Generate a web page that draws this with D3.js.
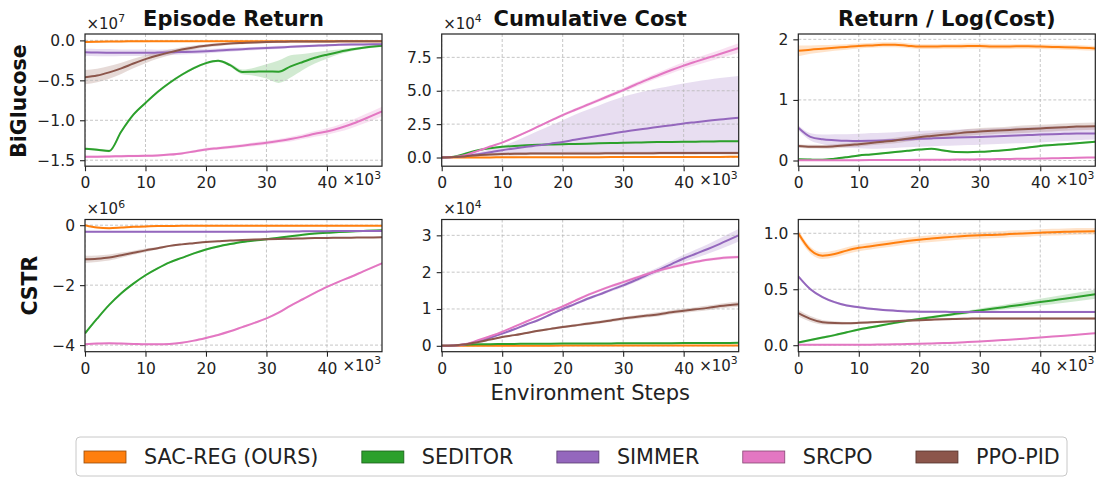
<!DOCTYPE html>
<html>
<head>
<meta charset="utf-8">
<script src="https://cdn.jsdelivr.net/npm/d3@7"></script>
<style>
  body { margin: 0; background: #fff; }
  svg { display: block; font-family: "DejaVu Sans", sans-serif; }
</style>
</head>
<body>
<svg id="fig" width="1098" height="477"></svg>
<script>
// ---- methods -------------------------------------------------------------
const methods = ["SAC-REG (OURS)", "SEDITOR", "SIMMER", "SRCPO", "PPO-PID"];
const colors  = ["#ff7f0e", "#2ca02c", "#9467bd", "#e377c2", "#8c564b"];

// environment steps at which every curve is sampled
const steps = [0, 2000, 4000, 6000, 8000, 10000, 12000, 14000, 16000, 18000, 20000,
               22000, 24000, 26000, 28000, 30000, 32000, 34000, 36000, 38000, 40000,
               42000, 44000, 46000, 49100];
const xTickValues = [0, 10000, 20000, 30000, 40000];

// ---- BiGlucose : episode return (x1e7) ------------------------------------
const bgReturn = [
  [-0.02,-0.016,-0.014,-0.013,-0.012,-0.012,-0.011,-0.011,-0.011,-0.01,-0.01,-0.01,-0.01,-0.01,-0.01,-0.01,-0.01,-0.01,-0.01,-0.01,-0.01,-0.01,-0.01,-0.01,-0.01],
  [-1.355,-1.368,-1.385,-1.14,-0.93,-0.783,-0.645,-0.53,-0.43,-0.346,-0.285,-0.256,-0.31,-0.395,-0.392,-0.388,-0.392,-0.325,-0.27,-0.218,-0.179,-0.145,-0.115,-0.093,-0.068],
  [-0.15,-0.152,-0.154,-0.155,-0.155,-0.155,-0.153,-0.15,-0.146,-0.141,-0.135,-0.127,-0.118,-0.11,-0.102,-0.095,-0.088,-0.081,-0.074,-0.067,-0.06,-0.056,-0.052,-0.05,-0.048],
  [-1.458,-1.456,-1.453,-1.45,-1.447,-1.445,-1.44,-1.43,-1.415,-1.39,-1.365,-1.35,-1.335,-1.318,-1.3,-1.282,-1.26,-1.235,-1.205,-1.17,-1.14,-1.1,-1.05,-0.99,-0.89],
  [-0.46,-0.44,-0.40,-0.35,-0.29,-0.235,-0.19,-0.15,-0.115,-0.088,-0.068,-0.052,-0.04,-0.032,-0.025,-0.02,-0.017,-0.015,-0.014,-0.013,-0.013,-0.012,-0.012,-0.012,-0.012]
];
const bgReturnBand = [
  0.01,
  [0.015,0.015,0.015,0.015,0.015,0.015,0.015,0.015,0.015,0.015,0.015,0.015,0.02,0.03,0.05,0.09,0.14,0.14,0.1,0.07,0.05,0.03,0.02,0.015,0.015],
  [0.045,0.045,0.045,0.04,0.04,0.04,0.035,0.035,0.03,0.03,0.03,0.025,0.025,0.02,0.02,0.02,0.02,0.015,0.015,0.015,0.015,0.015,0.015,0.015,0.015],
  [0.015,0.015,0.015,0.015,0.015,0.015,0.015,0.015,0.015,0.015,0.02,0.02,0.02,0.02,0.025,0.025,0.025,0.03,0.03,0.035,0.04,0.045,0.05,0.055,0.06],
  [0.09,0.085,0.08,0.07,0.06,0.05,0.04,0.035,0.03,0.025,0.02,0.02,0.015,0.015,0.015,0.015,0.015,0.015,0.015,0.015,0.015,0.015,0.015,0.015,0.015]
];

// ---- BiGlucose : cumulative cost (x1e4) -----------------------------------
const bgCost = [
  [0,0.002,0.005,0.008,0.01,0.012,0.014,0.016,0.018,0.02,0.022,0.024,0.026,0.028,0.03,0.032,0.034,0.036,0.038,0.04,0.042,0.044,0.046,0.048,0.05],
  [0,0.06,0.3,0.55,0.7,0.8,0.86,0.91,0.95,0.98,1.0,1.02,1.04,1.06,1.08,1.1,1.12,1.14,1.16,1.17,1.18,1.19,1.2,1.21,1.22],
  [0,0.03,0.12,0.25,0.4,0.55,0.68,0.8,0.91,1.04,1.17,1.33,1.48,1.63,1.78,1.93,2.06,2.18,2.3,2.42,2.55,2.65,2.75,2.85,2.98],
  [0,0.04,0.2,0.5,0.82,1.12,1.5,1.9,2.33,2.76,3.18,3.56,3.93,4.3,4.68,5.05,5.45,5.83,6.2,6.55,6.88,7.18,7.47,7.75,8.2],
  [0,0.03,0.1,0.17,0.22,0.26,0.28,0.29,0.3,0.3,0.3,0.31,0.31,0.31,0.32,0.32,0.32,0.32,0.33,0.33,0.33,0.33,0.34,0.34,0.34]
];
const bgCostSimmerLo = [0,0.02,0.08,0.15,0.2,0.25,0.28,0.3,0.32,0.33,0.34,0.35,0.36,0.37,0.37,0.38,0.38,0.39,0.39,0.4,0.4,0.4,0.4,0.4,0.4];
const bgCostSimmerHi = [0,0.04,0.17,0.37,0.6,0.85,1.2,1.6,2.0,2.4,2.8,3.2,3.55,3.9,4.25,4.55,4.8,5.0,5.2,5.38,5.55,5.7,5.83,5.95,6.1];
const bgCostBand = [
  0.06,
  0.04,
  { lo: bgCostSimmerLo, hi: bgCostSimmerHi },
  [0,0.01,0.02,0.03,0.04,0.05,0.06,0.07,0.08,0.09,0.1,0.11,0.12,0.13,0.14,0.15,0.17,0.19,0.21,0.23,0.25,0.27,0.29,0.31,0.35],
  [0,0.02,0.05,0.08,0.1,0.11,0.12,0.12,0.12,0.12,0.12,0.12,0.12,0.12,0.12,0.12,0.12,0.12,0.12,0.12,0.12,0.12,0.12,0.12,0.12]
];

// ---- BiGlucose : return / log(cost) ---------------------------------------
const bgRatio = [
  [1.81,1.83,1.845,1.86,1.875,1.89,1.9,1.91,1.91,1.895,1.88,1.88,1.885,1.885,1.89,1.89,1.88,1.88,1.885,1.885,1.88,1.875,1.87,1.865,1.85],
  [0.02,0.015,0.012,0.03,0.055,0.083,0.1,0.12,0.14,0.16,0.18,0.192,0.165,0.14,0.138,0.143,0.155,0.17,0.19,0.215,0.24,0.255,0.27,0.285,0.31],
  [0.54,0.39,0.35,0.335,0.325,0.322,0.325,0.33,0.338,0.348,0.358,0.365,0.372,0.378,0.384,0.39,0.398,0.405,0.413,0.42,0.428,0.435,0.44,0.444,0.446],
  [0.005,0.005,0.005,0.005,0.006,0.006,0.007,0.008,0.009,0.01,0.011,0.012,0.013,0.015,0.017,0.02,0.022,0.025,0.028,0.03,0.033,0.037,0.041,0.045,0.05],
  [0.24,0.228,0.226,0.235,0.25,0.27,0.29,0.31,0.33,0.36,0.385,0.405,0.425,0.445,0.465,0.48,0.49,0.5,0.51,0.52,0.53,0.54,0.55,0.56,0.567]
];
const bgRatioBand = [
  [0.09,0.07,0.06,0.05,0.045,0.04,0.04,0.04,0.04,0.04,0.04,0.04,0.04,0.04,0.04,0.04,0.04,0.04,0.04,0.04,0.04,0.04,0.04,0.04,0.04],
  0.015,
  [0.04,0.06,0.08,0.1,0.11,0.12,0.13,0.13,0.13,0.13,0.13,0.13,0.13,0.13,0.13,0.13,0.13,0.13,0.13,0.13,0.13,0.125,0.12,0.11,0.1],
  0.01,
  [0.03,0.03,0.03,0.035,0.035,0.04,0.04,0.04,0.045,0.045,0.05,0.05,0.05,0.05,0.055,0.055,0.055,0.055,0.06,0.06,0.06,0.06,0.06,0.06,0.06]
];

// ---- CSTR : episode return (x1e6) -----------------------------------------
const cstrReturn = [
  [0,-0.08,-0.1,-0.08,-0.055,-0.04,-0.03,-0.025,-0.02,-0.02,-0.02,-0.02,-0.02,-0.02,-0.02,-0.02,-0.02,-0.02,-0.02,-0.018,-0.018,-0.016,-0.016,-0.015,-0.015],
  [-3.61,-3.12,-2.66,-2.27,-1.95,-1.67,-1.44,-1.24,-1.09,-0.94,-0.81,-0.71,-0.63,-0.56,-0.51,-0.47,-0.42,-0.37,-0.32,-0.28,-0.255,-0.23,-0.21,-0.19,-0.17],
  [-0.22,-0.22,-0.22,-0.22,-0.22,-0.22,-0.22,-0.22,-0.22,-0.22,-0.22,-0.22,-0.22,-0.22,-0.215,-0.215,-0.21,-0.21,-0.205,-0.2,-0.2,-0.195,-0.195,-0.19,-0.19],
  [-3.97,-3.95,-3.94,-3.95,-3.96,-3.97,-3.97,-3.96,-3.92,-3.85,-3.76,-3.66,-3.54,-3.4,-3.26,-3.11,-2.92,-2.68,-2.47,-2.26,-2.06,-1.88,-1.72,-1.54,-1.27],
  [-1.14,-1.12,-1.08,-1.0,-0.92,-0.84,-0.77,-0.69,-0.64,-0.6,-0.56,-0.535,-0.51,-0.495,-0.48,-0.47,-0.46,-0.45,-0.44,-0.43,-0.425,-0.42,-0.415,-0.41,-0.405]
];
const cstrReturnBand = [
  0.02,
  0.03,
  0.02,
  0.03,
  [0.12,0.11,0.1,0.09,0.07,0.06,0.04,0.03,0.025,0.02,0.02,0.02,0.02,0.02,0.02,0.02,0.02,0.02,0.02,0.02,0.02,0.02,0.02,0.02,0.02]
];

// ---- CSTR : cumulative cost (x1e4) ----------------------------------------
const cstrCost = [
  [0,0,0.001,0.001,0.002,0.002,0.003,0.003,0.004,0.004,0.005,0.005,0.006,0.006,0.007,0.007,0.008,0.008,0.009,0.009,0.01,0.01,0.01,0.01,0.01],
  [0,0.01,0.03,0.04,0.045,0.05,0.052,0.054,0.056,0.058,0.06,0.062,0.063,0.064,0.066,0.067,0.068,0.069,0.07,0.072,0.073,0.075,0.076,0.078,0.08],
  [0,0.005,0.04,0.12,0.22,0.33,0.45,0.58,0.7,0.85,1.0,1.13,1.27,1.39,1.52,1.64,1.78,1.93,2.07,2.22,2.37,2.5,2.63,2.77,3.0],
  [0,0.008,0.05,0.15,0.26,0.38,0.52,0.66,0.8,0.94,1.07,1.22,1.37,1.5,1.62,1.73,1.84,1.95,2.05,2.13,2.21,2.28,2.34,2.38,2.41],
  [0,0.01,0.04,0.1,0.17,0.24,0.29,0.35,0.41,0.46,0.51,0.55,0.6,0.64,0.69,0.74,0.78,0.82,0.86,0.91,0.95,0.99,1.03,1.08,1.13]
];
const cstrCostBand = [
  0.01,
  0.01,
  [0,0.005,0.01,0.015,0.02,0.02,0.025,0.025,0.03,0.03,0.035,0.035,0.04,0.04,0.045,0.05,0.055,0.065,0.075,0.09,0.1,0.115,0.13,0.15,0.17],
  [0,0.005,0.01,0.015,0.02,0.02,0.025,0.025,0.03,0.03,0.03,0.03,0.035,0.035,0.035,0.035,0.04,0.04,0.04,0.04,0.04,0.04,0.04,0.04,0.04],
  [0,0.005,0.01,0.015,0.02,0.02,0.025,0.025,0.03,0.03,0.035,0.035,0.04,0.04,0.045,0.045,0.05,0.05,0.055,0.055,0.06,0.06,0.065,0.065,0.07]
];

// ---- CSTR : return / log(cost) --------------------------------------------
const cstrRatio = [
  [1.0,0.85,0.80,0.815,0.845,0.87,0.885,0.9,0.915,0.93,0.943,0.953,0.962,0.97,0.977,0.982,0.985,0.99,0.996,1.0,1.005,1.01,1.013,1.016,1.018],
  [0.024,0.046,0.068,0.09,0.115,0.14,0.16,0.18,0.2,0.218,0.235,0.25,0.265,0.28,0.295,0.31,0.325,0.34,0.355,0.37,0.385,0.4,0.415,0.43,0.455],
  [0.615,0.5,0.43,0.385,0.355,0.34,0.325,0.315,0.308,0.302,0.3,0.298,0.298,0.297,0.297,0.297,0.297,0.297,0.297,0.297,0.297,0.297,0.297,0.297,0.297],
  [0.003,0.003,0.003,0.003,0.004,0.004,0.005,0.006,0.008,0.01,0.012,0.015,0.019,0.023,0.028,0.033,0.039,0.046,0.053,0.061,0.069,0.077,0.085,0.094,0.107],
  [0.287,0.235,0.205,0.198,0.197,0.2,0.205,0.21,0.215,0.22,0.224,0.228,0.232,0.235,0.237,0.238,0.238,0.238,0.238,0.238,0.238,0.238,0.238,0.238,0.238]
];
const cstrRatioBand = [
  0.03,
  [0.01,0.01,0.01,0.01,0.01,0.01,0.01,0.01,0.01,0.01,0.01,0.01,0.012,0.014,0.016,0.018,0.02,0.022,0.025,0.028,0.03,0.033,0.036,0.038,0.04],
  0.01,
  0.005,
  [0.03,0.025,0.02,0.015,0.01,0.01,0.01,0.01,0.01,0.01,0.01,0.01,0.01,0.01,0.01,0.01,0.01,0.01,0.01,0.01,0.01,0.01,0.01,0.01,0.01]
];

// ---- panel layout ---------------------------------------------------------
const colLeft = [85, 441.7, 798.3];
const rowTop  = [34, 219.5];
const panelW = 297, panelH = 132.2;

const panels = [
  { row: 0, col: 0, title: "Episode Return",     means: bgReturn,   bands: bgReturnBand,   yDomain: [-1.575, 0.08], yTicks: [-1.5, -1, -0.5, 0], fmt: ".1f", exp: 7 },
  { row: 0, col: 1, title: "Cumulative Cost",    means: bgCost,     bands: bgCostBand,     yDomain: [-0.65, 9.25],  yTicks: [0, 2.5, 5, 7.5],    fmt: ".1f", exp: 4 },
  { row: 0, col: 2, title: "Return / Log(Cost)", means: bgRatio,    bands: bgRatioBand,    yDomain: [-0.094, 2.088], yTicks: [0, 1, 2],          fmt: "d",   exp: null },
  { row: 1, col: 0, title: null,                 means: cstrReturn, bands: cstrReturnBand, yDomain: [-4.22, 0.19],  yTicks: [-4, -2, 0],         fmt: "d",   exp: 6 },
  { row: 1, col: 1, title: null,                 means: cstrCost,   bands: cstrCostBand,   yDomain: [-0.16, 3.43],  yTicks: [0, 1, 2, 3],        fmt: "d",   exp: 4 },
  { row: 1, col: 2, title: null,                 means: cstrRatio,  bands: cstrRatioBand,  yDomain: [-0.058, 1.123], yTicks: [0, 0.5, 1.0],      fmt: ".1f", exp: null }
];
const rowLabels = ["BiGlucose", "CSTR"];

const svg = d3.select("#fig");
const tickFont = 15.5;

function bandBounds(mean, band) {
  if (typeof band === "number") return { lo: mean.map(v => v - band), hi: mean.map(v => v + band) };
  if (Array.isArray(band))      return { lo: mean.map((v, i) => v - band[i]), hi: mean.map((v, i) => v + band[i]) };
  return band;
}

function sciLabel(sel, exp) {
  sel.append("tspan").text("\u00d710");
  sel.append("tspan").attr("font-size", "0.72em").attr("dy", "-0.6em").text(exp);
}

panels.forEach((p, k) => {
  const x0 = colLeft[p.col], y0 = rowTop[p.row];
  const g = svg.append("g").attr("transform", `translate(${x0},${y0})`);

  const x = d3.scaleLinear().domain(d3.extent(steps)).range([0, panelW]);
  const y = d3.scaleLinear().domain(p.yDomain).range([panelH, 0]);

  const clipId = "clip" + k;
  g.append("clipPath").attr("id", clipId)
    .append("rect").attr("width", panelW).attr("height", panelH);
  const plot = g.append("g").attr("clip-path", `url(#${clipId})`);

  // shaded spread bands
  p.means.forEach((mean, i) => {
    const b = bandBounds(mean, p.bands[i]);
    const area = d3.area()
      .x((d, j) => x(steps[j]))
      .y0((d, j) => y(b.lo[j]))
      .y1((d, j) => y(b.hi[j]))
      .curve(d3.curveMonotoneX);
    plot.append("path").datum(mean)
      .attr("d", area)
      .attr("fill", colors[i])
      .attr("fill-opacity", 0.22);
  });

  // dashed grid
  const grid = plot.append("g").attr("stroke", "#b8b8b8").attr("stroke-width", 0.8)
    .attr("stroke-dasharray", "3,2");
  xTickValues.forEach(t => grid.append("line")
    .attr("x1", x(t)).attr("x2", x(t)).attr("y1", 0).attr("y2", panelH));
  p.yTicks.forEach(t => grid.append("line")
    .attr("x1", 0).attr("x2", panelW).attr("y1", y(t)).attr("y2", y(t)));

  // mean curves
  p.means.forEach((mean, i) => {
    const line = d3.line()
      .x((d, j) => x(steps[j]))
      .y(d => y(d))
      .curve(d3.curveMonotoneX);
    plot.append("path").datum(mean)
      .attr("d", line)
      .attr("fill", "none")
      .attr("stroke", colors[i])
      .attr("stroke-width", 2);
  });

  // axes
  const yAxis = d3.axisLeft(y).tickValues(p.yTicks).tickFormat(d3.format(p.fmt))
    .tickSize(5).tickPadding(5);
  const xAxis = d3.axisBottom(x).tickValues(xTickValues).tickFormat(d => d / 1000)
    .tickSize(5).tickPadding(6);
  [g.append("g").call(yAxis), g.append("g").attr("transform", `translate(0,${panelH})`).call(xAxis)]
    .forEach(a => {
      a.select(".domain").remove();
      a.selectAll(".tick line").attr("stroke", "#222").attr("stroke-width", 1.1);
      a.selectAll(".tick text").attr("fill", "#222").attr("font-size", tickFont)
        .attr("font-family", "DejaVu Sans");
    });

  // frame
  g.append("rect").attr("width", panelW).attr("height", panelH)
    .attr("fill", "none").attr("stroke", "#222").attr("stroke-width", 1.2);

  // offset multipliers
  g.append("text").attr("x", panelW - 1).attr("y", panelH + 19)
    .attr("text-anchor", "end").attr("font-size", 15).attr("fill", "#222")
    .call(sciLabel, 3);
  if (p.exp !== null) {
    g.append("text").attr("x", 1.5).attr("y", -5.5)
      .attr("font-size", 15).attr("fill", "#222")
      .call(sciLabel, p.exp);
  }

  if (p.title) {
    svg.append("text").attr("x", x0 + panelW / 2).attr("y", 26)
      .attr("text-anchor", "middle").attr("font-size", 21).attr("font-weight", "bold")
      .attr("fill", "#111").text(p.title);
  }
});

// row labels
svg.append("text").attr("transform", `translate(25.5,${rowTop[0] + panelH / 2 + 1}) rotate(-90)`)
  .attr("text-anchor", "middle").attr("font-size", 20.5).attr("font-weight", "bold")
  .attr("fill", "#111").text(rowLabels[0]);
svg.append("text").attr("transform", `translate(37,${rowTop[1] + panelH / 2}) rotate(-90)`)
  .attr("text-anchor", "middle").attr("font-size", 20.5).attr("font-weight", "bold")
  .attr("fill", "#111").text(rowLabels[1]);

// shared x label
svg.append("text").attr("x", colLeft[1] + panelW / 2).attr("y", 399.5)
  .attr("text-anchor", "middle").attr("font-size", 21).attr("fill", "#222")
  .text("Environment Steps");

// legend
const legend = svg.append("g");
legend.append("rect").attr("x", 76).attr("y", 437).attr("width", 991).attr("height", 39)
  .attr("rx", 4).attr("fill", "#fff").attr("stroke", "#c8c8c8").attr("stroke-width", 1);
let lx = 84;
methods.forEach((m, i) => {
  legend.append("rect").attr("x", lx).attr("y", 451).attr("width", 42).attr("height", 12)
    .attr("fill", colors[i]).attr("stroke", d3.color(colors[i]).darker(1.5)).attr("stroke-width", 0.8);
  const t = legend.append("text").attr("x", lx + 60).attr("y", 463.5)
    .attr("font-size", 20.7).attr("fill", "#222").text(m);
  lx = lx + 60 + t.node().getComputedTextLength() + 43.5;
});
</script>
</body>
</html>
